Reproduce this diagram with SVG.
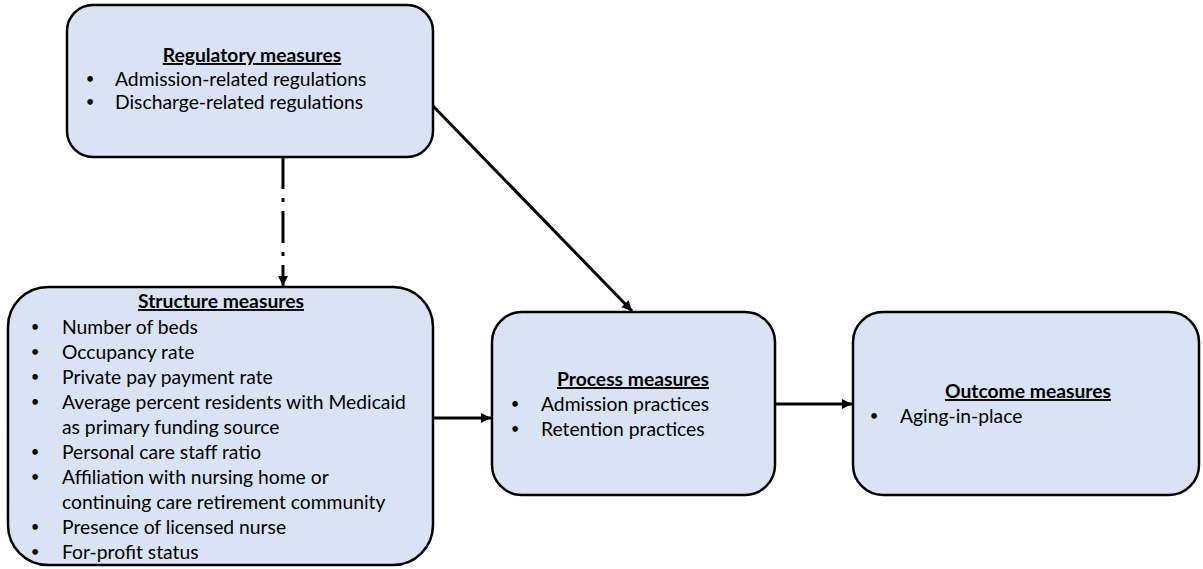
<svg xmlns="http://www.w3.org/2000/svg" width="1203" height="569" viewBox="0 0 1203 569">
<defs>
<style>
.box{fill:#dae3f3;stroke:#000;stroke-width:2.5}
.t{font-family:Lato,"Liberation Sans",sans-serif;font-size:19.3px;fill:#000}
.h{font-weight:bold;text-decoration:underline;text-anchor:middle}
.b{font-family:Lato,"Liberation Sans",sans-serif;font-size:15px;fill:#000;text-anchor:middle}
.c{stroke:#000;stroke-width:3;fill:none}
</style>
<marker id="ah" viewBox="0 0 10 10" refX="10" refY="5" markerWidth="3.6" markerHeight="3.4" orient="auto" markerUnits="strokeWidth">
<path d="M0,0 L10,5 L0,10 z" fill="#000"/>
</marker>
</defs>
<g id="connectors">
<path class="c" d="M283,157 L283,286" stroke-dasharray="32,9,4,9" marker-end="url(#ah)"/>
<path class="c" d="M433,106 L632,311" marker-end="url(#ah)"/>
<path class="c" d="M433,418 L491,418" marker-end="url(#ah)"/>
<path class="c" d="M775,404 L852,404" marker-end="url(#ah)"/>
</g>
<g id="regulatory">
<rect class="box" x="67" y="5" width="366" height="152" rx="26"/>
<text class="t h" x="252" y="62">Regulatory measures</text>
<text class="b" x="90" y="84">•</text><text class="t" x="115" y="86">Admission-related regulations</text>
<text class="b" x="90" y="107">•</text><text class="t" x="115" y="109">Discharge-related regulations</text>
</g>
<g id="structure">
<rect class="box" x="8" y="287" width="425" height="278" rx="40"/>
<text class="t h" x="221" y="308">Structure measures</text>
<text class="b" x="35" y="332">•</text><text class="t" x="62" y="334">Number of beds</text>
<text class="b" x="35" y="357">•</text><text class="t" x="62" y="359">Occupancy rate</text>
<text class="b" x="35" y="382">•</text><text class="t" x="62" y="384">Private pay payment rate</text>
<text class="b" x="35" y="407">•</text><text class="t" x="62" y="409">Average percent residents with Medicaid</text>
<text class="t" x="62" y="434">as primary funding source</text>
<text class="b" x="35" y="457">•</text><text class="t" x="62" y="459">Personal care staff ratio</text>
<text class="b" x="35" y="482">•</text><text class="t" x="62" y="484">Affiliation with nursing home or</text>
<text class="t" x="62" y="509">continuing care retirement community</text>
<text class="b" x="35" y="532">•</text><text class="t" x="62" y="534">Presence of licensed nurse</text>
<text class="b" x="35" y="557">•</text><text class="t" x="62" y="559">For-profit status</text>
</g>
<g id="process">
<rect class="box" x="492" y="312" width="283" height="183" rx="30"/>
<text class="t h" x="633" y="386">Process measures</text>
<text class="b" x="515" y="409">•</text><text class="t" x="541" y="411">Admission practices</text>
<text class="b" x="515" y="434">•</text><text class="t" x="541" y="436">Retention practices</text>
</g>
<g id="outcome">
<rect class="box" x="853" y="312" width="346" height="183" rx="30"/>
<text class="t h" x="1028" y="398">Outcome measures</text>
<text class="b" x="874" y="421">•</text><text class="t" x="900" y="423">Aging-in-place</text>
</g>
</svg>
